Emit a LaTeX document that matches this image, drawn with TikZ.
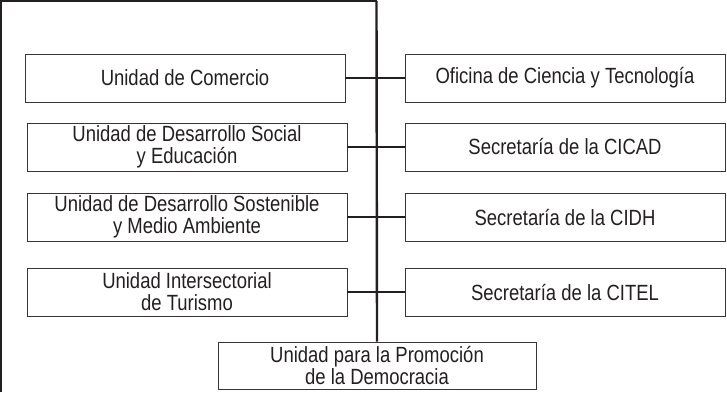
\documentclass[tikz,border=0pt]{standalone}
\usepackage{fontspec}
\setmainfont[FakeStretch=0.84]{Liberation Sans}
\usetikzlibrary{calc}

\definecolor{ink}{HTML}{231F20}

\tikzset{
  unit/.style={draw=ink!90, line width=0.8pt, minimum width=320pt, minimum height=48pt,
    inner sep=0pt, align=center, text=ink, font=\fontsize{22}{22}\selectfont},
  link/.style={draw=ink, line width=2.4pt}
}

\begin{document}
\begin{tikzpicture}[x=1pt,y=-1pt]

\useasboundingbox (0,0) rectangle (727,392);

\coordinate (t0) at (376.5,1.2);
\coordinate (c0) at (1.2,1.2);
\coordinate (c1) at (1.2,392);

\node[unit] (u1) at (185,78) {Unidad de Comercio};
\node[unit] (u2) at (187,147) {Unidad de Desarrollo Social\\y Educación};
\node[unit] (u3) at (187,217) {Unidad de Desarrollo Sostenible\\y Medio Ambiente};
\node[unit] (u4) at (187,292) {Unidad Intersectorial\\de Turismo};

\node[unit] (s1) at (565,78) {Oficina de Ciencia y Tecnología};
\node[unit] (s2) at (565,147) {Secretaría de la CICAD};
\node[unit] (s3) at (565,217) {Secretaría de la CIDH};
\node[unit] (s4) at (565,292) {Secretaría de la CITEL};

\node[unit, minimum width=318pt, minimum height=47pt] (d1) at (377,365.5) {Unidad para la Promoción\\de la Democracia};

  \draw[link] (c1) -- (c0) -- (t0);
  \draw[link] (t0) -- (d1.north);

\draw[link] (u1.east) -- (s1.west);
\draw[link] (u2.east) -- (s2.west);
\draw[link] (u3.east) -- (s3.west);
\draw[link] (u4.east) -- (s4.west);
\end{tikzpicture}
\end{document}
